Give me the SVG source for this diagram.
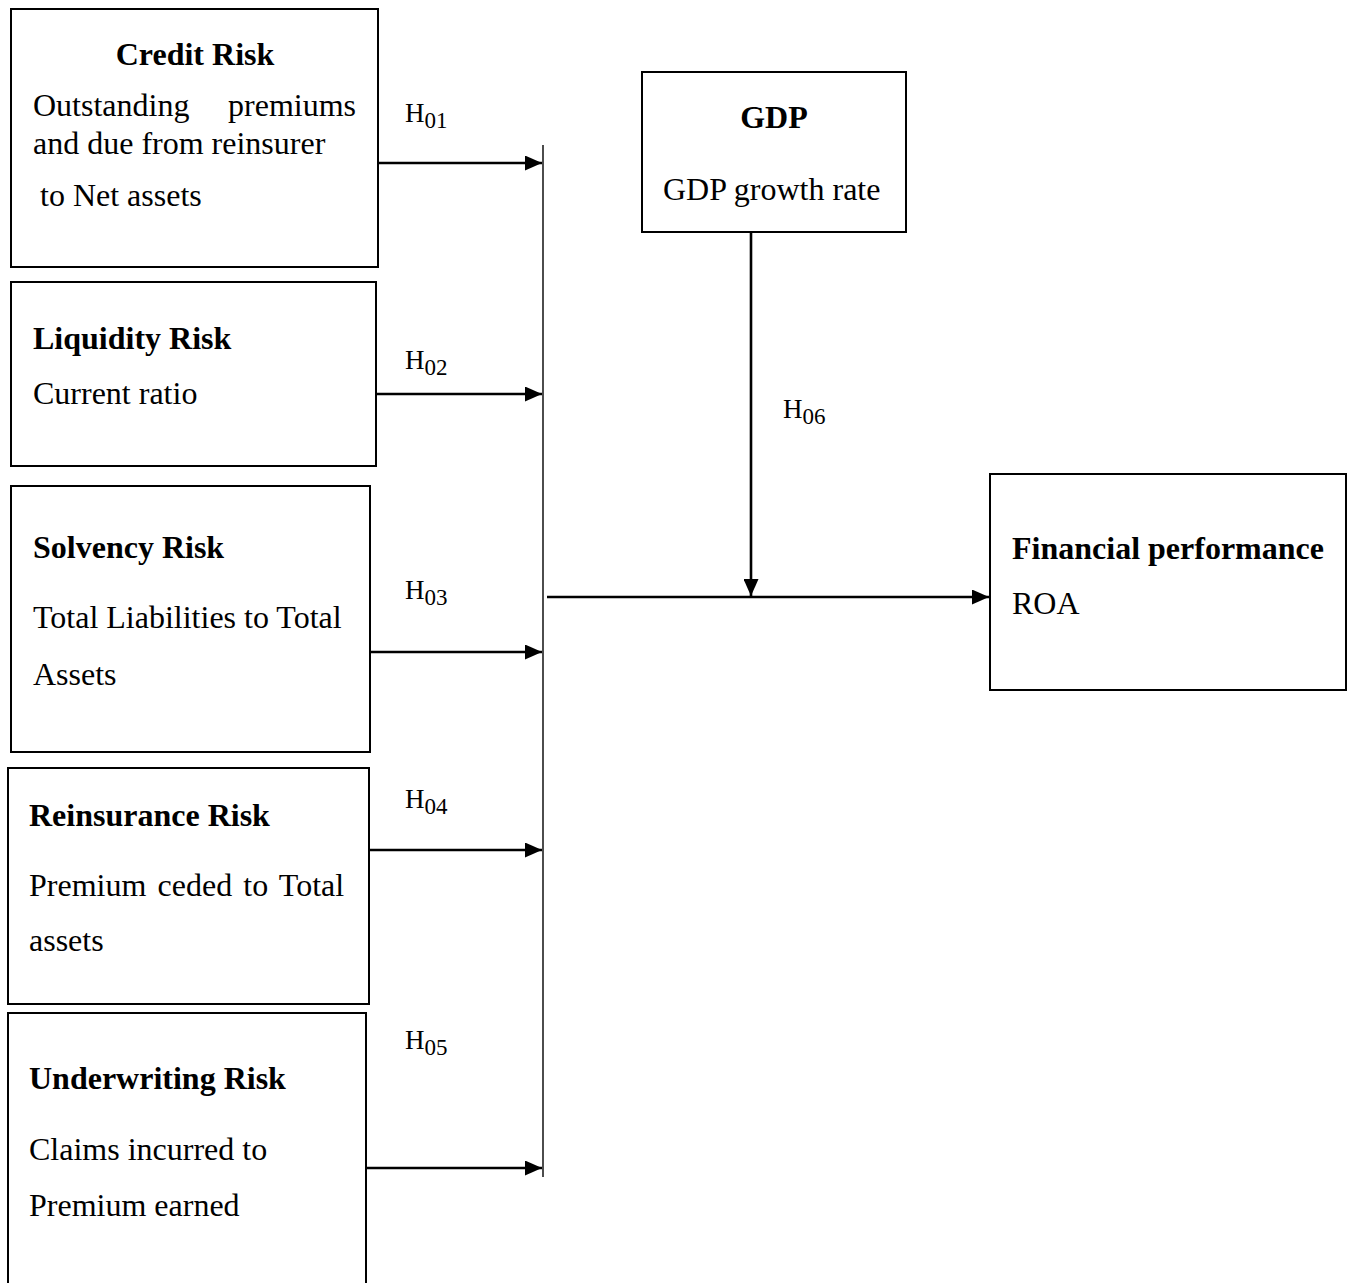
<svg xmlns="http://www.w3.org/2000/svg" width="1353" height="1283" viewBox="0 0 1353 1283">
<style>
.box{fill:#fff;stroke:#000;stroke-width:2}
.t{font-family:"Liberation Serif","Times New Roman",serif;font-size:32px;fill:#000}
.b{font-weight:bold}
.h{font-family:"Liberation Serif","Times New Roman",serif;font-size:27px;fill:#000}
.s{font-size:23px}
.ln{stroke:#000;stroke-width:2.6;fill:none}
.bar{stroke:#000;stroke-width:1.4;fill:none}
</style>
<defs>
<marker id="ah" viewBox="0 0 17 15" refX="17" refY="7.5" markerWidth="17" markerHeight="15" markerUnits="userSpaceOnUse" orient="auto">
<path d="M0,0 L17,7.5 L0,15 Z" fill="#000"/>
</marker>
</defs>
<rect width="1353" height="1283" fill="#fff"/>

<g id="credit">
<rect class="box" x="11" y="9" width="367" height="258"/>
<text class="t b" x="195" y="65" text-anchor="middle">Credit Risk</text>
<text class="t" x="33" y="116">Outstanding</text>
<text class="t" x="356" y="116" text-anchor="end">premiums</text>
<text class="t" x="33" y="154">and due from reinsurer</text>
<text class="t" x="40" y="206">to Net assets</text>
</g>

<g id="liquidity">
<rect class="box" x="11" y="282" width="365" height="184"/>
<text class="t b" x="33" y="349">Liquidity Risk</text>
<text class="t" x="33" y="404">Current ratio</text>
</g>

<g id="solvency">
<rect class="box" x="11" y="486" width="359" height="266"/>
<text class="t b" x="33" y="558">Solvency Risk</text>
<text class="t" x="33" y="628">Total Liabilities to Total</text>
<text class="t" x="33" y="685">Assets</text>
</g>

<g id="reinsurance">
<rect class="box" x="8" y="768" width="361" height="236"/>
<text class="t b" x="29" y="826">Reinsurance Risk</text>
<text class="t" x="29" y="896" word-spacing="3.2">Premium ceded to Total</text>
<text class="t" x="29" y="951">assets</text>
</g>

<g id="underwriting">
<rect class="box" x="8" y="1013" width="358" height="290"/>
<text class="t b" x="29" y="1089">Underwriting Risk</text>
<text class="t" x="29" y="1160">Claims incurred to</text>
<text class="t" x="29" y="1216">Premium earned</text>
</g>

<g id="gdp">
<rect class="box" x="642" y="72" width="264" height="160"/>
<text class="t b" x="774" y="128" text-anchor="middle">GDP</text>
<text class="t" x="663" y="200">GDP growth rate</text>
</g>

<g id="financial">
<rect class="box" x="990" y="474" width="356" height="216"/>
<text class="t b" x="1012" y="559">Financial performance</text>
<text class="t" x="1012" y="614">ROA</text>
</g>

<g id="connectors">
<line class="bar" x1="543" y1="145" x2="543" y2="1177"/>
<line class="ln" x1="378" y1="163" x2="542" y2="163" marker-end="url(#ah)"/>
<line class="ln" x1="376" y1="394" x2="542" y2="394" marker-end="url(#ah)"/>
<line class="ln" x1="370" y1="652" x2="542" y2="652" marker-end="url(#ah)"/>
<line class="ln" x1="369" y1="850" x2="542" y2="850" marker-end="url(#ah)"/>
<line class="ln" x1="365" y1="1168" x2="542" y2="1168" marker-end="url(#ah)"/>
<line class="ln" x1="547" y1="597" x2="989" y2="597" marker-end="url(#ah)"/>
<line class="ln" x1="751" y1="232" x2="751" y2="596" marker-end="url(#ah)"/>
</g>

<g id="labels">
<text class="h" x="405" y="122">H<tspan class="s" dy="6">01</tspan></text>
<text class="h" x="405" y="369">H<tspan class="s" dy="6">02</tspan></text>
<text class="h" x="405" y="599">H<tspan class="s" dy="6">03</tspan></text>
<text class="h" x="405" y="808">H<tspan class="s" dy="6">04</tspan></text>
<text class="h" x="405" y="1049">H<tspan class="s" dy="6">05</tspan></text>
<text class="h" x="783" y="418">H<tspan class="s" dy="6">06</tspan></text>
</g>
</svg>
